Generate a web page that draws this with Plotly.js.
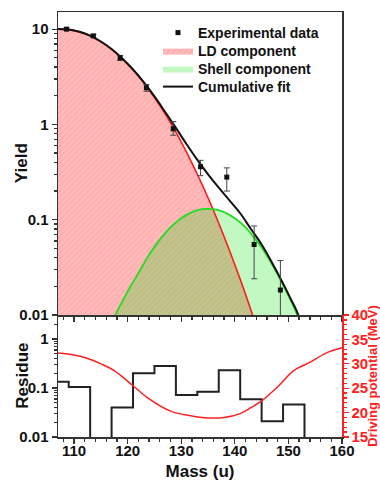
<!DOCTYPE html>
<html><head><meta charset="utf-8">
<script src="https://cdn.plot.ly/plotly-3.0.1.min.js"></script>
<style>html,body{margin:0;padding:0;background:#fff}</style>
</head><body><div id="chart" style="width:380px;height:481px"></div>
<script>
// Experimental data
const expMass = [108.6, 113.6, 118.6, 123.5, 128.5, 133.6, 138.5, 143.6, 148.5];
const expYield = [10.0, 8.5, 5.0, 2.43, 0.90, 0.36, 0.28, 0.055, 0.0183];
const expErrPlus = [0.3, 0.3, 0.3, 0.2, 0.17, 0.06, 0.07, 0.031, 0.019];
const expErrMinus = [0.3, 0.3, 0.3, 0.2, 0.13, 0.07, 0.08, 0.031, 0.0093];

// LD component
const ldMass = [107, 109, 111, 113, 115, 117, 119, 121, 123, 125, 127, 129, 131, 133, 135, 137, 139, 141, 143, 144];
const ldYield = [10.0, 9.88, 9.36, 8.49, 7.38, 6.15, 4.91, 3.75, 2.74, 1.92, 1.29, 0.83, 0.51, 0.30, 0.170, 0.092, 0.0476, 0.0237, 0.0113, 0.0076];

// Shell component
const shellMass = [117.7, 119, 120.5, 122, 123.5, 125, 126.5, 128, 129.5, 131, 132.5, 134, 135, 136, 137.5, 139, 140.5, 142, 143.5, 145, 146.5, 148, 149.5, 151, 152];
const shellYield = [0.0100, 0.0139, 0.0198, 0.0275, 0.0386, 0.0519, 0.067, 0.083, 0.0986, 0.1125, 0.123, 0.129, 0.130, 0.129, 0.123, 0.1125, 0.0986, 0.083, 0.066, 0.051, 0.0375, 0.0265, 0.0182, 0.0122, 0.0090];

// Cumulative fit
const fitMass = [107, 109, 111, 113, 115, 117, 119, 121, 123, 125, 127, 129, 131, 133, 135, 137, 139, 141, 143, 145, 147, 149, 150.5, 151.5, 152.2];
const fitYield = [10.05, 9.9, 9.4, 8.55, 7.42, 6.2, 4.93, 3.77, 2.78, 1.97, 1.35, 0.92, 0.62, 0.425, 0.30, 0.217, 0.16, 0.117, 0.080, 0.055, 0.035, 0.0215, 0.0145, 0.0112, 0.0088];

// Residue histogram (bin edges and values; 0.001 = below axis)
const residueEdges = [107, 109, 113, 117, 121, 125, 129, 133, 137, 141, 145, 149, 153];
const residueValues = [0.135, 0.105, 0.001, 0.040, 0.20, 0.28, 0.072, 0.084, 0.23, 0.059, 0.021, 0.046];

// Driving potential
const dpMass = [107, 110, 112, 115, 117.5, 121, 124, 128, 131.5, 135, 138, 141, 143, 145, 148, 151, 154, 157, 160];
const dpValue = [32.2, 31.8, 31.3, 30.0, 28.6, 25.5, 22.8, 20.3, 19.4, 18.9, 19.0, 19.8, 21.0, 22.4, 25.3, 28.6, 30.3, 32.2, 33.3];

const yieldTicks = [0.01, 0.1, 1, 10];
const yieldTickText = ['0.01', '0.1', '1', '10'];
const residueTicks = [0.01, 0.1, 1];
const residueTickText = ['0.01', '0.1', '1'];

const legendNames = ['Experimental data', 'LD component', 'Shell component', 'Cumulative fit'];

const FAM = 'Liberation Sans, Arial, sans-serif';
function minorLog(lo, hi) { const v = []; for (let d = lo; d < hi; d++) for (let k = 2; k <= 9; k++) v.push(k * Math.pow(10, d)); return v; }

const traces = [
  { x: ldMass, y: ldYield, xaxis: 'x', yaxis: 'y', type: 'scatter', mode: 'lines', fill: 'tozeroy',
    line: { width: 0, shape: 'spline', color: 'rgba(255,0,0,0)' },
    fillcolor: 'rgba(255,0,0,0.27)', name: legendNames[1], legend: 'legend2',
    fillpattern: { shape: '/', bgcolor: 'rgba(255,0,0,0.27)', fgcolor: 'rgba(255,0,0,0.10)', size: 4, solidity: 0.25 } },
  { x: shellMass, y: shellYield, xaxis: 'x', yaxis: 'y', type: 'scatter', mode: 'lines', fill: 'tozeroy',
    line: { width: 0, shape: 'spline', color: 'rgba(0,200,0,0)' },
    fillcolor: 'rgba(0,230,0,0.24)', name: legendNames[2], legend: 'legend3' },
  { x: ldMass, y: ldYield, xaxis: 'x', yaxis: 'y', type: 'scatter', mode: 'lines', line: { color: '#ff1a1a', width: 1.6, shape: 'spline' }, showlegend: false },
  { x: shellMass, y: shellYield, xaxis: 'x', yaxis: 'y', type: 'scatter', mode: 'lines', line: { color: '#22dd22', width: 1.8, shape: 'spline' }, showlegend: false },
  { x: fitMass, y: fitYield, xaxis: 'x', yaxis: 'y', type: 'scatter', mode: 'lines', line: { color: '#111', width: 2, shape: 'spline' }, name: legendNames[3], legend: 'legend4' },
  { x: expMass, y: expYield, xaxis: 'x', yaxis: 'y', type: 'scatter', mode: 'markers',
    marker: { symbol: 'square', size: 5, color: '#111' }, name: legendNames[0], legend: 'legend',
    error_y: { type: 'data', symmetric: false, array: expErrPlus, arrayminus: expErrMinus, color: '#444', thickness: 1, width: 3 } },
  { x: residueEdges, y: residueValues.concat([0.001]), xaxis: 'x2', yaxis: 'y2', type: 'scatter', mode: 'lines',
    line: { color: '#222', width: 2, shape: 'hv' }, showlegend: false },
  { x: dpMass, y: dpValue, xaxis: 'x2', yaxis: 'y3', type: 'scatter', mode: 'lines',
    line: { color: '#ff2020', width: 1.5, shape: 'spline' }, showlegend: false }
];

const axBase = { showgrid: false, zeroline: false, showline: true, linecolor: '#333', linewidth: 1.5,
  tickcolor: '#333', tickwidth: 1.3, ticklen: 5, ticks: 'outside',
  tickfont: { family: FAM, size: 15, color: '#111', weight: 'bold' } };

// paper y coordinate helper for legend rows (plot area spans 12..437 px)
function legendBox(ypx) {
  return { x: 0.352, y: (437 - ypx) / 425, xanchor: 'left', yanchor: 'middle', bgcolor: 'rgba(0,0,0,0)',
    font: { family: FAM, size: 14, color: '#111', weight: 'bold' }, itemwidth: 30 };
}

const layout = {
  width: 380, height: 481,
  margin: { l: 58, r: 38, t: 12, b: 44 },
  paper_bgcolor: '#fff', plot_bgcolor: 'rgba(0,0,0,0)',
  showlegend: true,
  legend: legendBox(33),
  legend2: legendBox(51),
  legend3: legendBox(69),
  legend4: legendBox(87),
  xaxis: Object.assign({}, axBase, { domain: [0, 1], anchor: 'y', range: [107, 160], dtick: 10, tick0: 0,
    showticklabels: false, mirror: true, minor: { ticks: 'outside', ticklen: 3, dtick: 2, tick0: 0, tickcolor: '#333' } }),
  yaxis: Object.assign({}, axBase, { domain: [0.287, 1], anchor: 'x', type: 'log', range: [-2, 1.18],
    tickmode: 'array', tickvals: yieldTicks, ticktext: yieldTickText, mirror: true,
    minor: { ticks: 'outside', ticklen: 3, tickvals: minorLog(-2, 2), tickcolor: '#333' } }),
  xaxis2: Object.assign({}, axBase, { domain: [0, 1], anchor: 'y2', range: [107, 160], dtick: 10, tick0: 0,
    ticklabelstandoff: -6,
    minor: { ticks: 'outside', ticklen: 3, dtick: 2, tick0: 0, tickcolor: '#333' },
    title: { text: 'Mass (u)', font: { family: FAM, size: 17, color: '#111', weight: 'bold' }, standoff: 16 } }),
  yaxis2: Object.assign({}, axBase, { domain: [0, 0.287], anchor: 'x2', type: 'log', range: [-2, 0.49],
    tickmode: 'array', tickvals: residueTicks, ticktext: residueTickText,
    minor: { ticks: 'outside', ticklen: 3, tickvals: minorLog(-2, 1), tickcolor: '#333' } }),
  yaxis3: { overlaying: 'y2', anchor: 'x2', side: 'right', range: [15, 40], dtick: 5, tick0: 0,
    showgrid: false, zeroline: false, showline: true, linecolor: '#ff2020', linewidth: 1.5,
    ticks: 'outside', ticklen: 5, tickwidth: 1.3, tickcolor: '#ff2020',
    minor: { ticks: 'outside', ticklen: 3, dtick: 1, tickcolor: '#ff2020' },
    tickfont: { family: FAM, size: 15, color: '#ff2020', weight: 'bold' },
    title: { text: 'Driving potential (MeV)', font: { family: FAM, size: 13, color: '#ff2020', weight: 'bold' }, standoff: 5 } },
  annotations: [
    { text: 'Yield', xref: 'paper', yref: 'paper', x: -0.128, y: (0.287 + 1) / 2, textangle: -90,
      showarrow: false, xanchor: 'center', yanchor: 'middle', font: { family: FAM, size: 17, color: '#111', weight: 'bold' } },
    { text: 'Residue', xref: 'paper', yref: 'paper', x: -0.128, y: 0.287 / 2, textangle: -90,
      showarrow: false, xanchor: 'center', yanchor: 'middle', font: { family: FAM, size: 17, color: '#111', weight: 'bold' } }
  ]
};

Plotly.newPlot('chart', traces, layout, { displayModeBar: false, staticPlot: true });
</script></body></html>
